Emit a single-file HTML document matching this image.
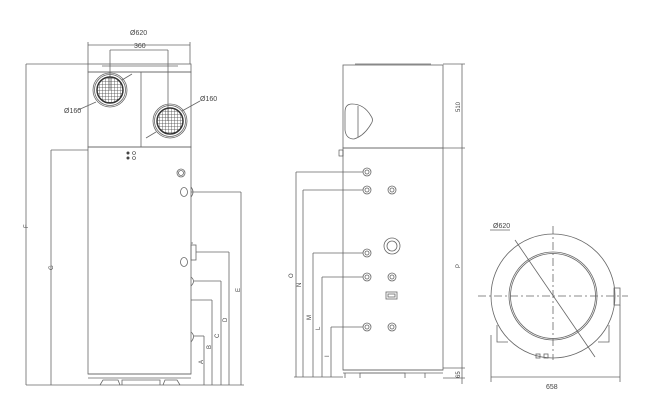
<!DOCTYPE html>
<html><head><meta charset="utf-8"><style>
html,body{margin:0;padding:0;background:#fff;width:646px;height:400px;overflow:hidden}
text{font-family:"Liberation Sans",sans-serif;fill:#444}
</style></head><body>
<svg width="646" height="400" viewBox="0 0 646 400" xmlns="http://www.w3.org/2000/svg">
<defs>
<pattern id="grid" width="3" height="3" patternUnits="userSpaceOnUse">
<path d="M0 0 H3 M0 0 V3" stroke="#444" stroke-width="0.8" fill="none"/>
</pattern>
</defs>
<g stroke="#666" stroke-width="0.8" fill="none">
<!-- LEFT VIEW -->
<line x1="88" y1="45" x2="190" y2="45"/>
<line x1="88" y1="42" x2="88" y2="64"/><line x1="190" y1="42" x2="190" y2="64"/>
<line x1="110" y1="50" x2="168" y2="50"/>
<line x1="110" y1="50" x2="110" y2="90"/><line x1="168" y1="50" x2="168" y2="121"/>
<rect x="88" y="64" width="103" height="8"/>
<line x1="102" y1="66" x2="178" y2="66"/>
<rect x="88" y="72" width="103" height="75"/>
<line x1="141" y1="72" x2="141" y2="147"/>
<circle cx="110" cy="90" r="13" fill="url(#grid)"/>
<circle cx="170" cy="121" r="13" fill="url(#grid)"/>
<circle cx="110" cy="90" r="17"/><circle cx="110" cy="90" r="15.5"/><circle cx="110" cy="90" r="13" stroke-width="1.5" stroke="#333"/>
<circle cx="170" cy="121" r="17"/><circle cx="170" cy="121" r="15.5"/><circle cx="170" cy="121" r="13" stroke-width="1.5" stroke="#333"/>
<line x1="78" y1="110" x2="96" y2="102"/><line x1="122" y1="80" x2="132" y2="74"/>
<line x1="182" y1="111" x2="200" y2="101"/><line x1="156" y1="132" x2="146" y2="138"/>
<rect x="88" y="147" width="103" height="227"/>
<line x1="88" y1="374" x2="191" y2="374"/><line x1="88" y1="378" x2="191" y2="378"/>
<path d="M100 385 L103 380 H118 L120 385 M122 385 V380 H160 V385 M163 385 L165 380 H177 L180 385"/>
<circle cx="181" cy="173" r="4"/><circle cx="181" cy="173" r="2.5"/>
<ellipse cx="184" cy="192" rx="3.5" ry="4.5"/><path d="M191 187 Q195 192 191 197"/>
<rect x="191" y="245" width="5" height="15"/><line x1="191" y1="243" x2="193" y2="243"/>
<ellipse cx="184" cy="262" rx="3.5" ry="4.5"/>
<path d="M191 277 Q196 281 191 286"/><path d="M191 332 Q196 336 191 342"/>
<line x1="191" y1="300" x2="212" y2="300"/>
<line x1="26" y1="64" x2="88" y2="64"/>
<line x1="26" y1="64" x2="26" y2="385"/><line x1="51" y1="150" x2="88" y2="150"/><line x1="51" y1="150" x2="51" y2="385"/>
<line x1="26" y1="385" x2="244" y2="385"/>
<line x1="191" y1="192" x2="241" y2="192"/><line x1="241" y1="192" x2="241" y2="385"/>
<line x1="196" y1="252" x2="229" y2="252"/><line x1="229" y1="252" x2="229" y2="385"/>
<line x1="194" y1="281" x2="221" y2="281"/><line x1="221" y1="281" x2="221" y2="385"/>
<line x1="212" y1="300" x2="212" y2="385"/>
<line x1="194" y1="336" x2="204" y2="336"/><line x1="204" y1="336" x2="204" y2="385"/>
<!-- MIDDLE VIEW -->
<rect x="343" y="65" width="100" height="83"/>
<line x1="355" y1="64" x2="431" y2="64"/>
<path d="M352 104 Q345 104 345 112 V130 Q346 139 354 139 Q364 136 371 124 Q374 120 371 116 Q364 104 352 104 Z"/>
<line x1="358" y1="106" x2="358" y2="137"/>
<rect x="343" y="148" width="100" height="222"/>
<line x1="343" y1="370" x2="443" y2="370"/><line x1="343" y1="373" x2="443" y2="373"/>
<path d="M345 378 V373 M360 378 V373 H405 V378 M425 378 V373"/>
<circle cx="367" cy="172" r="4"/><circle cx="367" cy="172" r="2"/>
<circle cx="367" cy="190" r="4"/><circle cx="367" cy="190" r="2"/>
<circle cx="392" cy="190" r="4"/><circle cx="392" cy="190" r="2"/>
<circle cx="392" cy="246" r="8"/><circle cx="392" cy="246" r="5"/>
<circle cx="367" cy="253" r="4"/><circle cx="367" cy="253" r="2"/>
<circle cx="367" cy="277" r="4"/><circle cx="367" cy="277" r="2"/>
<circle cx="392" cy="277" r="4"/><circle cx="392" cy="277" r="2"/>
<rect x="386" y="292" width="11" height="7"/><rect x="388" y="294" width="7" height="3"/>
<circle cx="367" cy="327" r="4"/><circle cx="367" cy="327" r="2"/>
<circle cx="392" cy="327" r="4"/><circle cx="392" cy="327" r="2"/>
<line x1="296" y1="172" x2="363" y2="172"/><line x1="296" y1="172" x2="296" y2="377"/>
<line x1="303" y1="190" x2="363" y2="190"/><line x1="303" y1="190" x2="303" y2="377"/>
<line x1="313" y1="253" x2="363" y2="253"/><line x1="313" y1="253" x2="313" y2="377"/>
<line x1="322" y1="277" x2="363" y2="277"/><line x1="322" y1="277" x2="322" y2="377"/>
<line x1="331" y1="327" x2="363" y2="327"/><line x1="331" y1="327" x2="331" y2="377"/>
<line x1="294" y1="377" x2="343" y2="377"/>
<line x1="443" y1="64" x2="465" y2="64"/><line x1="443" y1="148" x2="465" y2="148"/><line x1="443" y1="368" x2="465" y2="368"/><line x1="443" y1="378" x2="465" y2="378"/>
<line x1="462" y1="64" x2="462" y2="384"/>
<!-- TOP VIEW -->
<circle cx="553" cy="296" r="62"/>
<circle cx="553" cy="296" r="44"/><circle cx="553" cy="296" r="42.5"/>
<rect x="614" y="288" width="6" height="17"/>
<path d="M497 325 V342 H508 M609 325 V342 H598"/>
<line x1="478" y1="296" x2="628" y2="296" stroke-dasharray="8 3 2 3"/>
<line x1="553" y1="226" x2="553" y2="360" stroke-dasharray="8 3 2 3"/>
<line x1="515" y1="240" x2="595" y2="357"/>
<line x1="490" y1="230" x2="510" y2="230"/>
<line x1="491" y1="335" x2="491" y2="382"/><line x1="620" y1="305" x2="620" y2="382"/>
<line x1="491" y1="377" x2="620" y2="377"/>
<rect x="536" y="354" width="4" height="4"/><rect x="544" y="354" width="4" height="4"/>
</g>
<g fill="#444">
<circle cx="128" cy="153" r="1.5"/><circle cx="128" cy="158" r="1.5"/>
<circle cx="134" cy="153" r="1.5" fill="none" stroke="#444" stroke-width="0.6"/><circle cx="134" cy="158" r="1.5" fill="none" stroke="#444" stroke-width="0.6"/>
<rect x="339" y="150" width="4" height="6" fill="none" stroke="#444" stroke-width="0.6"/>
</g>
<g font-size="7">
<text x="130" y="35">Ø620</text>
<text x="134" y="48">360</text>
<text x="64" y="113">Ø160</text>
<text x="200" y="101">Ø160</text>
<text x="493" y="228">Ø620</text>
<text x="546" y="389">658</text>
</g>
<g font-size="6">
<text transform="translate(28,228) rotate(-90)">F</text>
<text transform="translate(53,270) rotate(-90)">G</text>
<text transform="translate(240,292) rotate(-90)">E</text>
<text transform="translate(227,322) rotate(-90)">D</text>
<text transform="translate(219,338) rotate(-90)">C</text>
<text transform="translate(211,349) rotate(-90)">B</text>
<text transform="translate(203,364) rotate(-90)">A</text>
<text transform="translate(293,278) rotate(-90)">O</text>
<text transform="translate(301,287) rotate(-90)">N</text>
<text transform="translate(311,320) rotate(-90)">M</text>
<text transform="translate(320,330) rotate(-90)">L</text>
<text transform="translate(329,357) rotate(-90)">I</text>
<text transform="translate(460,112) rotate(-90)">510</text>
<text transform="translate(460,268) rotate(-90)">P</text>
<text transform="translate(460,378) rotate(-90)">65</text>
</g>
</svg>
</body></html>
